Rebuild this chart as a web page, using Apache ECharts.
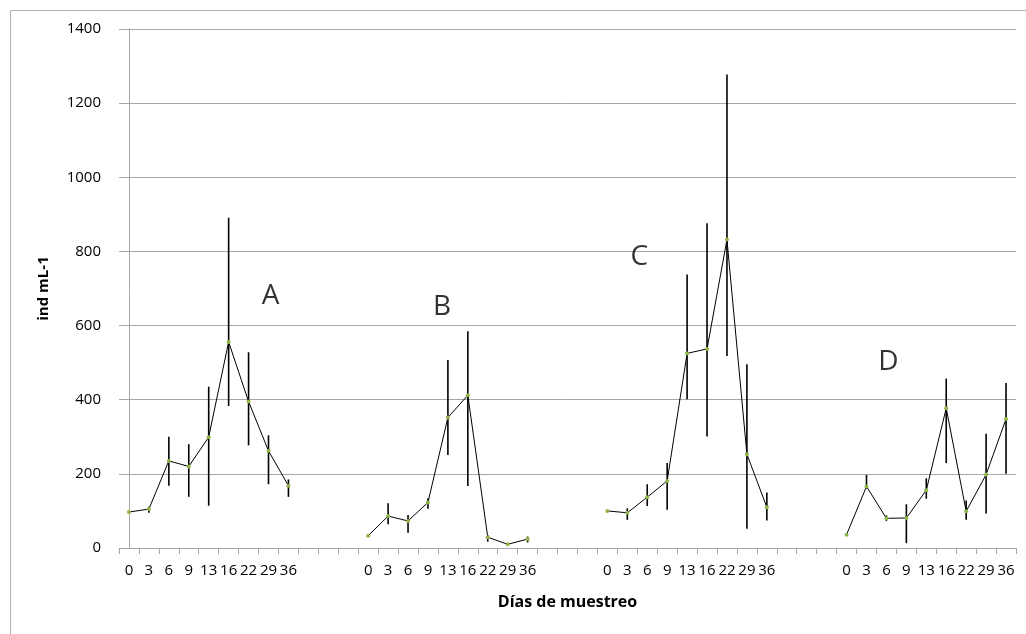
<!DOCTYPE html>
<html>
<head>
<meta charset="utf-8">
<script src="https://cdn.jsdelivr.net/npm/echarts@6/dist/echarts.min.js"></script>
<style>
  html, body { margin: 0; padding: 0; background: #fff; }
  #chart { width: 1026px; height: 634px; }
</style>
</head>
<body>
<div id="chart"></div>
<script>
// sampling days shown under each group
const days = ['0', '3', '6', '9', '13', '16', '22', '29', '36']
const groupNames = ['A', 'B', 'C', 'D']
// empty categories between groups
const gapSize = 3

// mean values (ind mL-1)
const meanA = [97, 105, 235, 220, 299, 556, 395, 262, 168]
const meanB = [33, 86, 73, 123, 352, 412, 29, 10, 24]
const meanC = [100, 95, 137, 181, 525, 537, 832, 253, 110]
const meanD = [36, 166, 80, 81, 156, 377, 99, 198, 348]

// error bar ends
const lowA = [97, 95, 168, 138, 114, 383, 277, 172, 138]
const highA = [97, 111, 300, 280, 435, 891, 528, 304, 185]
const lowB = [33, 64, 41, 106, 251, 167, 17, 10, 15]
const highB = [33, 121, 89, 134, 507, 585, 35, 10, 31]
const lowC = [100, 76, 113, 103, 401, 301, 518, 52, 74]
const highC = [100, 107, 172, 229, 738, 876, 1277, 496, 150]
const lowD = [36, 160, 73, 13, 133, 229, 76, 93, 200]
const highD = [36, 197, 88, 118, 188, 457, 128, 308, 445]

// letter annotations: [category index, value]
const letterPos = [[7.1, 680], [15.7, 650], [25.6, 785], [38.1, 502]]

const means = [meanA, meanB, meanC, meanD]
const lows = [lowA, lowB, lowC, lowD]
const highs = [highA, highB, highC, highD]

const categories = []
const lineData = []
const barData = []
groupNames.forEach((g, gi) => {
  days.forEach((d, i) => {
    const idx = categories.length
    categories.push(d)
    lineData.push(means[gi][i])
    barData.push([idx, lows[gi][i], highs[gi][i]])
  })
  if (gi < groupNames.length - 1) {
    for (let k = 0; k < gapSize; k++) {
      categories.push('')
      lineData.push(null)
    }
  }
})

const letterData = letterPos.map((p, i) => ({ value: p, name: groupNames[i] }))

const font = '"Open Sans", "Noto Sans", sans-serif'
const gray = '#a6a6a6'

const chart = echarts.init(document.getElementById('chart'))
chart.setOption({
  animation: false,
  textStyle: { fontFamily: font },
  graphic: [{
    type: 'rect',
    left: 8, top: 8,
    shape: { width: 1040, height: 700 },
    style: { fill: 'none', stroke: '#b0b0b0', lineWidth: 1 },
    silent: true
  }],
  grid: { left: 119, right: 10, top: 29, bottom: 86 },
  xAxis: [{
    type: 'category',
    data: categories,
    boundaryGap: true,
    name: 'Días de muestreo',
    nameLocation: 'middle',
    nameGap: 46,
    nameTextStyle: { fontFamily: font, fontWeight: 'bold', fontSize: 16, color: '#000' },
    axisLine: { lineStyle: { color: gray, width: 1 } },
    axisTick: { show: true, interval: 0, length: 6, lineStyle: { color: gray } },
    axisLabel: { interval: 0, color: '#000', fontSize: 15, margin: 15, fontFamily: font },
    splitLine: { show: false }
  }, {
    type: 'value',
    min: -0.5,
    max: categories.length - 0.5,
    show: false
  }],
  yAxis: {
    type: 'value',
    min: 0,
    max: 1400,
    interval: 200,
    name: 'ind mL-1',
    nameLocation: 'middle',
    nameGap: 68,
    nameTextStyle: { fontFamily: font, fontWeight: 'bold', fontSize: 15, color: '#000' },
    axisLine: { show: true, lineStyle: { color: gray, width: 1 } },
    axisTick: { show: true, length: 6, lineStyle: { color: gray } },
    axisLabel: { color: '#000', fontSize: 15, margin: 18, fontFamily: font, formatter: v => String(v) },
    splitLine: { show: true, lineStyle: { color: gray, width: 1 } }
  },
  series: [
    {
      type: 'custom',
      xAxisIndex: 0,
      data: barData,
      z: 3,
      renderItem: function (params, api) {
        const x = api.value(0)
        const lo = api.coord([x, api.value(1)])
        const hi = api.coord([x, api.value(2)])
        return {
          type: 'line',
          shape: { x1: lo[0], y1: lo[1], x2: hi[0], y2: hi[1] },
          style: { stroke: '#000', lineWidth: 1.6 }
        }
      }
    },
    {
      type: 'line',
      xAxisIndex: 0,
      data: lineData,
      connectNulls: false,
      symbol: 'circle',
      symbolSize: 4,
      showSymbol: true,
      itemStyle: { color: '#8fb347', borderWidth: 0 },
      lineStyle: { color: '#000', width: 1 },
      z: 4
    },
    {
      type: 'scatter',
      xAxisIndex: 1,
      data: letterData,
      symbolSize: 0,
      label: {
        show: true,
        position: 'inside',
        formatter: '{b}',
        fontSize: 28,
        color: '#000',
        fontFamily: font
      }
    }
  ]
})
</script>
</body>
</html>
